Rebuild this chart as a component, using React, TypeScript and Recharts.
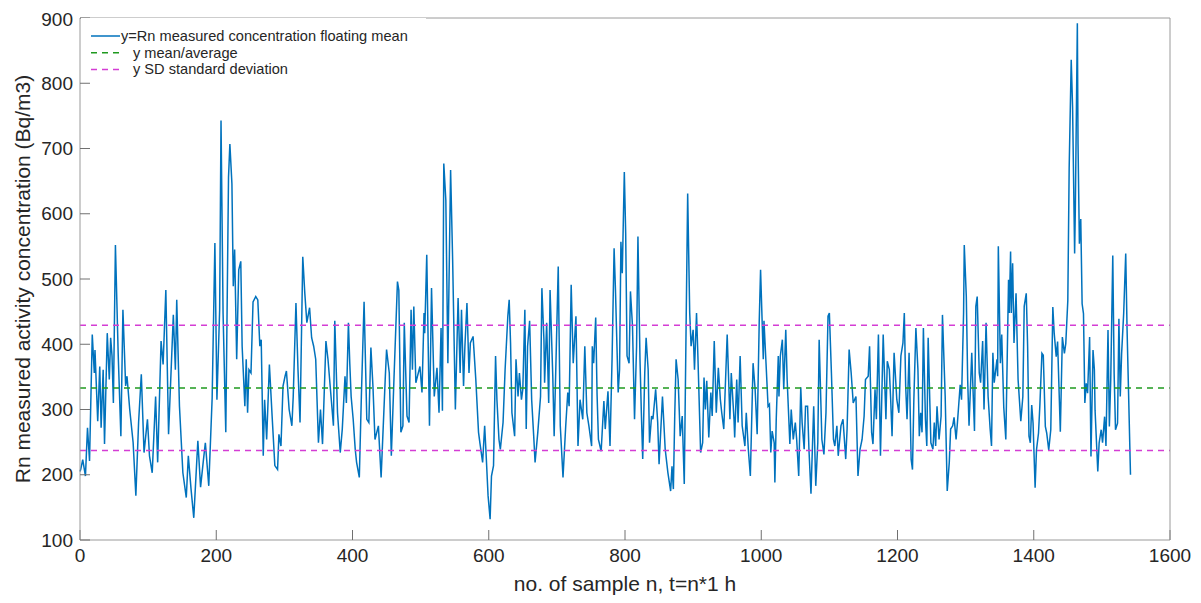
import { LineChart, Line, XAxis, YAxis, ReferenceLine } from 'recharts'

// sample index n (t = n * 1 h)
const sampleN = [
  0, 1, 4, 8, 11, 14, 18, 21, 22, 26, 29, 31, 34, 36, 40, 43, 45, 47, 49, 52, 56, 60, 63, 67, 69, 73, 78, 82, 86, 90,
  94, 99, 102, 106, 111, 114, 119, 122, 126, 130, 137, 140, 142, 146, 151, 156, 159, 163, 167, 173, 177, 181, 184, 189,
  194, 198, 201, 205, 207, 210, 214, 218, 220, 223, 225, 227, 230, 233, 236, 238, 242, 244, 246, 248, 251, 254, 258,
  261, 264, 266, 269, 271, 274, 278, 282, 286, 290, 292, 295, 298, 301, 303, 307, 311, 313, 317, 320, 323, 327, 330,
  333, 337, 340, 343, 346, 350, 353, 356, 361, 364, 368, 372, 374, 378, 382, 385, 389, 391, 394, 396, 398, 401,
  404, 406, 410, 413, 417, 421, 424, 427, 430, 433, 438, 442, 448, 450, 454, 457, 461, 466, 468, 471, 474, 476, 480,
  483, 486, 488, 490, 493, 499, 502, 505, 506, 509, 513, 516, 520, 524, 527, 530, 532, 534, 537, 540, 544, 547, 551,
  555, 558, 560, 563, 565, 568, 571, 573, 577, 581, 585, 587, 591, 594, 596, 599, 602,
  604, 607, 610, 612, 615, 617, 621, 624, 628, 630, 632, 634, 638, 640, 643, 645, 648, 650, 653, 655, 657, 660, 663,
  666, 668, 672, 676, 678, 681, 682, 685, 688, 690, 694, 696, 699, 702, 705, 709, 713, 716, 718, 721, 724, 728, 731,
  734, 738, 741, 744, 747, 751, 752, 754, 757, 759, 761, 765, 769, 771, 775, 778, 781, 784, 786, 790, 792, 794, 796, 799,
  801, 803, 806, 808, 811, 814, 817, 819, 822, 824, 826, 829, 831, 834, 836, 839, 841, 845, 848, 850, 855, 859, 863,
  867, 869, 871, 873, 875, 878, 881, 884, 887, 890, 892, 895, 897, 900, 902, 905, 907, 911, 914, 916, 918, 920, 923,
  926, 928, 931, 934, 937, 940, 942, 945, 950, 954, 956, 960, 961, 964, 966, 969, 972, 976, 978, 981, 984, 988, 991,
  994, 997, 999, 1003,
  1004, 1007, 1010, 1012, 1014, 1016, 1019, 1020, 1022, 1025, 1026, 1028, 1031, 1033, 1036, 1038, 1042, 1044, 1047,
  1050, 1052, 1055, 1058, 1060, 1063, 1065, 1068, 1070, 1073, 1077, 1080, 1083, 1085, 1089, 1092, 1095, 1098, 1100,
  1103, 1106, 1108, 1111, 1113, 1117, 1120, 1124, 1126, 1129, 1132, 1135, 1139, 1142, 1145, 1148, 1151, 1153, 1157,
  1159, 1162, 1164, 1167, 1169, 1172, 1175, 1179, 1183, 1185, 1188, 1190, 1192, 1195,
  1199, 1202, 1205, 1208, 1210, 1212, 1214, 1217, 1220, 1222, 1224, 1227, 1230, 1232, 1234, 1236, 1238, 1241, 1243,
  1245, 1249, 1252, 1254, 1256, 1258, 1261, 1264, 1266, 1270, 1273, 1276, 1278, 1281, 1283, 1286, 1288, 1292, 1294,
  1297, 1298, 1301, 1303, 1305, 1309, 1310, 1313, 1315, 1317, 1320, 1322, 1325, 1327, 1330, 1333, 1336, 1338, 1340,
  1342, 1346, 1347, 1348, 1351, 1353, 1356, 1359, 1363, 1364, 1366, 1367, 1369, 1371, 1374, 1377, 1381, 1384, 1386,
  1389, 1391, 1393, 1395,
  1397, 1399, 1402, 1404, 1407, 1409, 1412, 1414, 1417, 1419, 1422, 1425, 1428, 1430, 1433, 1435, 1439, 1442, 1445,
  1447, 1450, 1452, 1455, 1457, 1460, 1461, 1464, 1465, 1467, 1469, 1471, 1473, 1475, 1477, 1479, 1482, 1484, 1487,
  1489, 1490, 1494, 1496, 1499, 1501, 1504, 1506, 1509, 1511, 1513, 1516, 1518, 1520, 1523, 1525, 1527, 1529, 1532,
  1535, 1537, 1542,
]

// Rn floating mean, Bq/m3
const rnValues = [
  205, 208, 223, 198, 272, 221, 415, 356, 391, 282, 366, 272, 361, 247, 417, 346, 410, 382, 310, 552, 387, 259, 453, 336, 351, 300, 249, 168, 280, 354,
  234, 285, 229, 203, 320, 219, 405, 369, 483, 262, 445, 361, 468, 305, 203, 165, 229, 178, 134, 252, 181, 221, 249, 183,
  318, 555, 315, 453, 743, 448, 265, 656, 707, 646, 489, 545, 377, 514, 527, 397, 305, 377, 295, 361, 356, 465, 473,
  468, 397, 407, 229, 315, 254, 369, 290, 214, 208, 262, 244, 336, 351, 359, 300, 275, 320, 463, 361, 280, 534, 478,
  433, 456, 410, 397, 377, 249, 300, 247, 405, 377, 326, 275, 436, 295, 234, 270, 351, 310, 433, 371, 320, 285,
  239, 219, 196, 320, 465, 285, 280, 395, 336, 254, 275, 196, 346, 392, 356, 229, 351, 496, 483, 265, 275, 433, 290,
  280, 453, 361, 458, 341, 366, 326, 448, 417, 537, 275, 486, 320, 364, 295, 425, 298, 677, 621, 371, 667, 529, 300,
  471, 356, 453, 336, 397, 463, 356, 402, 412, 346, 265, 249, 219, 275, 234, 168, 132,
  198, 214, 382, 315, 254, 239, 280, 361, 443, 468, 402, 295, 259, 377, 320, 356, 315, 331, 453, 270, 397, 436, 315,
  259, 219, 265, 320, 486, 407, 341, 433, 310, 483, 351, 259, 387, 519, 275, 196, 275, 326, 305, 491, 371, 443, 244,
  315, 285, 397, 295, 275, 244, 397, 371, 441, 323, 254, 236, 313, 270, 328, 244, 377, 547, 483, 326, 361, 557, 509, 664,
  570, 382, 371, 481, 428, 285, 397, 565, 377, 295, 224, 356, 410, 361, 249, 290, 285, 331, 280, 216, 320, 239, 203,
  175, 213, 178, 290, 377, 346, 259, 290, 186, 456, 631, 448, 397, 422, 361, 448, 382, 234, 249, 349, 300, 344, 257,
  326, 290, 405, 295, 364, 315, 295, 270, 415, 285, 356, 285, 257, 346, 280, 382, 275, 244, 295, 239, 198, 371, 331,
  262, 433, 514, 377,
  436, 371, 305, 308, 234, 267, 249, 188, 285, 382, 320, 382, 407, 331, 422, 346, 247, 300, 254,
  280, 254, 198, 334, 280, 239, 305, 305, 239, 171, 305, 183, 249, 407, 254, 231, 295, 443, 448,
  356, 254, 244, 275, 229, 275, 285, 224, 270, 392, 356, 310, 320, 198, 239, 254, 290, 346, 351,
  397, 265, 247, 331, 285, 415, 229, 415, 285, 374, 361, 315, 259, 387,
  315, 295, 382, 402, 448, 336, 285, 387, 224, 208, 315, 425, 361, 259, 295, 265, 425, 285, 244,
  410, 249, 239, 280, 244, 305, 254, 290, 445, 320, 175, 219, 270, 275, 288, 254, 280, 338, 315,
  448, 552, 473, 346, 275, 387, 356, 267, 458, 473, 356, 341, 405, 300, 433, 320, 270, 244, 387,
  341, 377, 351, 550, 371, 415, 303, 254, 499, 448, 542, 448, 524, 402, 478, 346, 282, 320, 458,
  478, 397, 259, 249,
  307, 279, 180, 238, 264, 307, 386, 383, 274, 264, 238, 269, 457, 417, 381, 404, 266, 411, 386,
  401, 467, 671, 836, 763, 539, 605, 892, 707, 554, 592, 462, 447, 310, 340, 325, 411, 228, 391,
  361, 299, 205, 249, 269, 249, 289, 244, 422, 274, 345, 536, 355, 269, 279, 439, 320, 386, 447,
  539, 422, 200,
]

const meanValue = 333
const sdUpper = 429
const sdLower = 237

const xTicks = [0, 200, 400, 600, 800, 1000, 1200, 1400, 1600]
const yTicks = [100, 200, 300, 400, 500, 600, 700, 800, 900]

const legendLabels = [
  'y=Rn measured concentration floating mean',
  'y mean/average',
  'y SD standard deviation',
]

const data = sampleN.map((n, i) => ({ n, rn: rnValues[i] }))

const BLUE = '#0072BD'
const GREEN = '#1f9a1f'
const MAGENTA = '#d43dd4'
const FONT = '"Liberation Sans", Arial, Helvetica, sans-serif'
const TEXT = '#262626'
const AXIS = '#9a9a9a'

function YTitle(props: any) {
  const vb = props.viewBox
  const cx = vb.x + 6
  const cy = vb.y + vb.height / 2
  return (
    <text
      x={cx}
      y={cy}
      transform={`rotate(-90, ${cx}, ${cy})`}
      textAnchor="middle"
      dominantBaseline="central"
      fontSize={21}
      fill={TEXT}
      fontFamily={FONT}
    >
      Rn measured activity concentration (Bq/m3)
    </text>
  )
}

function XTitle(props: any) {
  const vb = props.viewBox
  return (
    <text
      x={vb.x + vb.width / 2}
      y={vb.y + 43}
      textAnchor="middle"
      dominantBaseline="central"
      fontSize={21}
      fill={TEXT}
      fontFamily={FONT}
    >
      no. of sample n, t=n*1 h
    </text>
  )
}

function LegendBox() {
  const rows = [
    { color: BLUE, dash: undefined, textX: 40 },
    { color: GREEN, dash: '6 5', textX: 52 },
    { color: MAGENTA, dash: '6 5', textX: 52 },
  ]
  return (
    <svg width={345} height={62} style={{ display: 'block' }}>
      {rows.map((r, i) => {
        const y = 18 + i * 16.7
        return (
          <g key={i}>
            <line x1={10} x2={39} y1={y} y2={y} stroke={r.color} strokeWidth={1.5} strokeDasharray={r.dash} />
            <text x={r.textX} y={y} dominantBaseline="central" fontSize={14.6} fill={TEXT} fontFamily={FONT}>
              {legendLabels[i]}
            </text>
          </g>
        )
      })}
    </svg>
  )
}

export default function App() {
  const tickStyle = { fill: TEXT, fontSize: 19, fontFamily: FONT }
  return (
    <div style={{ position: 'relative', width: 1185, height: 595, background: '#fff' }}>
      <LineChart width={1185} height={595} data={data} margin={{ top: 9, right: 22, bottom: 13, left: 8 }}>
        <XAxis
          xAxisId="b"
          dataKey="n"
          type="number"
          domain={[0, 1600]}
          ticks={xTicks}
          height={50}
          stroke={AXIS}
          tickSize={-10}
          tickMargin={19}
          tick={tickStyle}
          tickLine={{ stroke: '#707070' }}
          label={{ content: XTitle }}
        />
        <XAxis
          xAxisId="t"
          orientation="top"
          dataKey="n"
          type="number"
          domain={[0, 1600]}
          ticks={xTicks}
          height={1}
          stroke={AXIS}
          tickSize={-10}
          tick={false}
          tickLine={{ stroke: '#707070' }}
        />
        <YAxis
          yAxisId="l"
          type="number"
          domain={[100, 900]}
          ticks={yTicks}
          width={64}
          stroke={AXIS}
          tickSize={-10}
          tickMargin={17}
          tick={tickStyle}
          tickLine={{ stroke: '#707070' }}
          label={{ content: YTitle }}
        />
        <YAxis
          yAxisId="r"
          orientation="right"
          type="number"
          domain={[100, 900]}
          ticks={yTicks}
          width={1}
          stroke={AXIS}
          tickSize={-10}
          tick={false}
          tickLine={{ stroke: '#707070' }}
        />
        <Line
          xAxisId="b"
          yAxisId="l"
          type="linear"
          dataKey="rn"
          stroke={BLUE}
          strokeWidth={1.5}
          dot={false}
          activeDot={false}
          isAnimationActive={false}
        />
        <ReferenceLine xAxisId="b" yAxisId="l" y={meanValue} stroke={GREEN} strokeWidth={1.5} strokeDasharray="6 5" />
        <ReferenceLine xAxisId="b" yAxisId="l" y={sdUpper} stroke={MAGENTA} strokeWidth={1.5} strokeDasharray="6 5" />
        <ReferenceLine xAxisId="b" yAxisId="l" y={sdLower} stroke={MAGENTA} strokeWidth={1.5} strokeDasharray="6 5" />
      </LineChart>
      <div style={{ position: 'absolute', left: 73, top: 10, background: '#fff' }}>
        <LegendBox />
      </div>
    </div>
  )
}
